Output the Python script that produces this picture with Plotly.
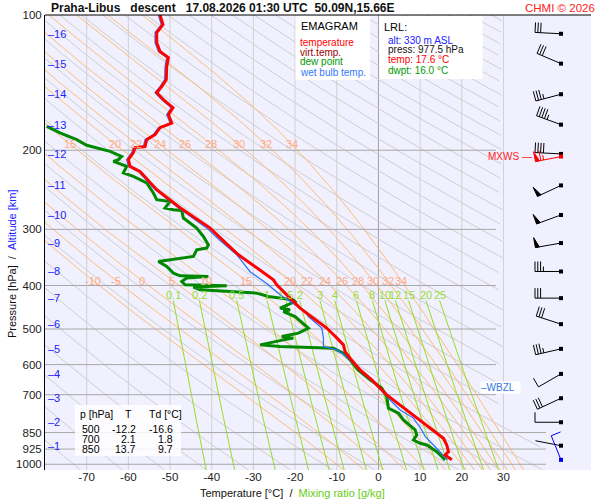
import numpy as np
import plotly.graph_objects as go

FONT = "Liberation Sans, Arial, sans-serif"

### ==== SOUNDING (pressure hPa, temperature °C) ==== ###
temp_p = [100.0, 105.0, 107.7, 109.4, 115.2, 120.6, 124.4, 130.3, 139.2, 144.3, 148.9, 154.3,
          160.8, 166.6, 174.0, 178.1, 184.6, 189.4, 196.3, 197.3, 202.5, 209.9, 217.3, 222.9,
          244.8, 268.5, 298.0, 341.7, 365.3, 388.5, 398.6, 419.6, 449.2, 473.1, 497.5, 523.2,
          542.3, 561.2, 580.8, 616.5, 649.0, 700.9, 737.8, 776.6, 796.8, 838.8, 875.3, 905.8,
          937.5, 953.5, 977.5]
temp_t = [-52.4, -51.7, -52.6, -53.2, -53.2, -52.4, -50.4, -50.8, -50.9, -52.0, -53.2, -51.6,
          -49.3, -50.4, -49.6, -52.4, -53.6, -55.6, -56.0, -58.4, -58.8, -60.0, -59.6, -57.2,
          -53.2, -47.6, -40.4, -33.6, -29.2, -25.2, -24.4, -22.0, -18.8, -15.6, -12.4, -10.0,
          -8.4, -8.0, -6.8, -4.4, -1.6, 2.0, 5.2, 8.4, 10.0, 13.2, 15.6, 16.4,
          16.8, 16.0, 17.6]

dwpt_p = [176.9, 183.0, 189.4, 195.0, 201.1, 206.4, 209.9, 211.7, 217.3, 224.7, 228.7, 236.5,
          249.0, 257.7, 260.0, 268.9, 271.3, 272.3, 283.1, 290.4, 298.0, 311.1, 324.6, 330.2,
          333.1, 344.7, 353.7, 362.9, 375.4, 380.6, 382.0, 385.1, 391.9, 398.6, 400.6, 403.3,
          409.0, 416.0, 423.3, 430.5, 434.2, 449.2, 453.1, 457.1, 469.0, 497.7, 510.7, 519.7,
          523.9, 528.6, 542.3, 547.0, 551.5, 565.9, 575.9, 585.7, 616.5, 649.0, 676.2, 707.1,
          750.4, 770.0, 796.8, 838.8, 860.6, 882.9, 898.0, 905.8, 937.5, 969.8, 977.5]
dwpt_t = [-79.6, -76.4, -72.4, -70.0, -64.4, -61.6, -62.4, -63.6, -60.4, -61.2, -58.8, -55.6,
          -54.0, -53.2, -50.0, -51.2, -49.2, -47.2, -46.8, -45.2, -43.6, -42.0, -40.8, -41.2,
          -43.6, -44.4, -52.8, -50.8, -49.2, -47.6, -40.8, -46.0, -47.2, -46.4, -36.4, -44.4,
          -42.8, -29.2, -26.4, -20.4, -20.0, -23.6, -21.2, -22.8, -20.0, -16.8, -19.2, -23.2,
          -20.4, -22.8, -28.4, -23.6, -10.8, -8.4, -7.6, -6.8, -4.9, -2.0, 0.8, 2.0,
          2.4, 4.8, 6.0, 8.8, 9.2, 8.4, 10.0, 11.6, 14.0, 15.6, 16.0]

wetb_p = [100.0, 105.0, 107.7, 109.4, 115.2, 120.6, 124.4, 130.3, 139.2, 144.3, 148.9, 154.3,
          160.8, 166.6, 174.0, 178.1, 184.6, 189.4, 196.3, 197.3, 202.5, 209.9, 217.3, 222.9,
          244.8, 268.5, 299.6, 316.4, 341.7, 372.7, 398.6, 419.6, 441.7, 457.1, 469.0, 485.3,
          497.7, 523.9, 547.0, 556.4, 575.9, 616.5, 649.0, 700.9, 712.9, 757.0, 789.3, 838.8,
          866.5, 905.8, 937.5, 969.8, 977.5]
wetb_t = [-52.8, -52.1, -53.0, -53.6, -53.6, -52.8, -50.8, -51.2, -51.3, -52.4, -53.6, -52.0,
          -49.7, -50.8, -50.0, -52.8, -54.0, -56.0, -56.4, -58.8, -59.2, -60.4, -60.0, -57.6,
          -53.6, -48.0, -40.9, -38.2, -34.0, -30.8, -26.4, -23.6, -20.0, -17.6, -16.8, -14.8,
          -13.6, -13.2, -13.2, -10.0, -7.6, -4.6, -1.8, 1.8, 2.4, 5.2, 8.4, 10.4,
          11.2, 13.2, 14.8, 16.4, 16.6]

# altitude marks [km] and winds (direction deg, speed kt) at those levels
alt_km = [16, 15, 14, 13, 12, 11, 10, 9, 8, 7, 6, 5, 4, 3, 2, 1]
alt_p = [110.1, 128.3, 150.1, 175.4, 203.8, 239.5, 278.7, 321.8, 372.3, 426.8, 487.6, 553.5,
         629.3, 712.9, 806.3, 909.2]
wind_dir = [273, 293, 255, 290, 273, 245, 250, 260, 270, 270, 288, 257, 240, 245, 270, 281]
wind_spd = [30, 30, 35, 45, 40, 50, 50, 50, 35, 30, 30, 35, 10, 30, 10, 3]
mxws = dict(p=206.6, d=259, s=65)
sfc_wind = dict(p=977.5, d=338, s=10)
wbzl_p = 675.7

# background of the diagram
dry_theta = list(range(190, 600, 10))                       # K
pseudo_thw = [-10, -5, 0, 5, 10, 15, 20, 22, 24, 26, 28, 30, 32, 34]   # °C
pseudo_lbl_hi = [15, 20, 22, 24, 26, 28, 30, 32, 34]
mix_ratio = [0.1, 0.2, 0.5, 1, 1.5, 2, 3, 4, 6, 8, 10, 12, 15, 20, 25]  # g/kg

p_ticks = [100, 200, 300, 400, 500, 600, 700, 850, 925, 1000]
t_ticks = [-70, -60, -50, -40, -30, -20, -10, 0, 10, 20, 30]

table_rows = [("500", "-12.2", "-16.6"), ("700", "2.1", "1.8"), ("850", "13.7", "9.7")]

### ==== GEOMETRY ==== ###
W, H = 600, 500
ML, MR, MT, MB = 45, 9, 15, 30
X0, X1 = -80, 51
P_TOP, P_BOT = 100, 1029.8
PXD = (W - ML - MR) / (X1 - X0)
PXL = (H - MT - MB) / np.log(P_BOT / P_TOP)
X_BARB = 43.8


def paper(x, y):
    return (x - ML) / (W - ML - MR), (H - MB - y) / (H - MT - MB)


def t_max(p):
    # right border of the diagram
    f = np.clip((np.log(p) - np.log(750)) / (np.log(850) - np.log(750)), 0, 1)
    return 30 + 10 * f


def joined(curves):
    xs, ys = [], []
    for x, y in curves:
        x = np.where(x > t_max(np.asarray(y)) + 0.01, np.nan, x)
        xs += list(x) + [None]
        ys += list(y) + [None]
    return xs, ys


def es(tc):
    return 6.112 * np.exp(17.67 * tc / (tc + 243.5))


def moist_rate(tk, p):
    e = es(tk - 273.15)
    rs = 0.622 * e / (p - e)
    return (287.04 * tk + 2.501e6 * rs) / (1005.7 + 2.501e6 ** 2 * rs * 0.622 / (287.04 * tk * tk))


def integrate(thw, lnp):
    t = [thw + 273.15]
    for i in range(1, len(lnp)):
        h, x, tk = lnp[i] - lnp[i - 1], lnp[i - 1], t[-1]
        k1 = moist_rate(tk, np.exp(x))
        k2 = moist_rate(tk + h * k1 / 2, np.exp(x + h / 2))
        k3 = moist_rate(tk + h * k2 / 2, np.exp(x + h / 2))
        k4 = moist_rate(tk + h * k3, np.exp(x + h))
        t.append(tk + h * (k1 + 2 * k2 + 2 * k3 + k4) / 6)
    return np.array(t) - 273.15


def pseudo_adiabat(thw):
    up = np.linspace(np.log(1000), np.log(P_TOP), 220)
    dn = np.linspace(np.log(1000), np.log(P_BOT), 6)
    lnp = np.concatenate([dn[::-1], up[1:]])
    t = np.concatenate([integrate(thw, dn)[::-1], integrate(thw, up)[1:]])
    return t, np.exp(lnp)


def mixing_line(w, p):
    e = w / 1000 * p / (0.622 + w / 1000)
    a = np.log(e / 6.112)
    return 243.5 * a / (17.67 - a)


fig = go.Figure()
pp = np.geomspace(P_TOP, P_BOT, 160)


def add_line(x, y, color, width=1):
    fig.add_trace(go.Scatter(x=x, y=y, mode="lines", line=dict(color=color, width=width),
                             hoverinfo="skip", showlegend=False, connectgaps=False))


# vertical grid
vx, vy = [], []
for t in t_ticks:
    if t != 0:
        vx += [t, t, None]
        vy += [P_TOP, P_BOT, None]
add_line(vx, vy, "#d2d2d2")
add_line([0, 0], [P_TOP, P_BOT], "#a0a0a0")

# dry adiabats
add_line(*joined([(th * (pp / 1000) ** 0.286 - 273.15, pp) for th in dry_theta]), "#cfcfcf")

# pseudo-adiabats
pseudo = {thw: pseudo_adiabat(thw) for thw in pseudo_thw}
add_line(*joined(list(pseudo.values())), "#ffbd78")

# mixing ratio lines
pm = np.geomspace(432, P_BOT, 60)
add_line(*joined([(mixing_line(w, pm), pm) for w in mix_ratio]), "#99dd22")

# horizontal grid
hx, hy = [], []
for p in p_ticks[1:]:
    hx += [X0, 40.2 if p >= 850 else 28.2, None]
    hy += [p, p, None]
add_line(hx, hy, "#a8a8a8")

# sounding
add_line(dwpt_t, dwpt_p, "#008800", 3)
add_line(wetb_t, wetb_p, "#2a6eff", 1.2)
add_line(temp_t, temp_p, "#ff0000", 3)


### ==== WIND BARBS ==== ###
def barb(p0, d, spd, color):
    ux, uy = np.sin(np.radians(d)), -np.cos(np.radians(d))
    nx, ny = -uy, ux
    shaft, blen, step, fw = 26, 10, 2.8, 4
    tx, ty = shaft * ux, shaft * uy
    segs = [[(0, 0), (tx, ty)]]
    flags = []
    n50, rem = divmod(spd, 50)
    n10, rem = divmod(rem, 10)
    pos = 0
    for _ in range(n50):
        a = (tx - pos * ux, ty - pos * uy)
        b = (tx - (pos + fw) * ux, ty - (pos + fw) * uy)
        flags.append([a, (a[0] + blen * nx, a[1] + blen * ny), b, a])
        pos += fw + 1.5
    for _ in range(n10):
        a = (tx - pos * ux, ty - pos * uy)
        segs.append([a, (a[0] + blen * nx, a[1] + blen * ny)])
        pos += step
    if rem >= 5:
        a = (tx - pos * ux, ty - pos * uy)
        segs.append([a, (a[0] + blen / 2 * nx, a[1] + blen / 2 * ny)])

    def to_data(pts):
        return ([X_BARB + dx / PXD for dx, dy in pts], [p0 * np.exp(dy / PXL) for dx, dy in pts])

    xs, ys = [], []
    for s in segs:
        x, y = to_data(s)
        xs += x + [None]
        ys += y + [None]
    add_line(xs, ys, color, 1)
    for f in flags:
        x, y = to_data(f)
        fig.add_trace(go.Scatter(x=x, y=y, mode="lines", fill="toself", fillcolor=color,
                                 line=dict(color=color, width=1), hoverinfo="skip", showlegend=False))
    fig.add_trace(go.Scatter(x=[X_BARB], y=[p0], mode="markers",
                             marker=dict(symbol="square", size=4, color=color),
                             hoverinfo="skip", showlegend=False))


for p, d, s in zip(alt_p, wind_dir, wind_spd):
    barb(p, d, s, "black")
barb(mxws["p"], mxws["d"], mxws["s"], "#ff0000")
barb(sfc_wind["p"], sfc_wind["d"], sfc_wind["s"], "#0000ee")

### ==== TEXTS ==== ###
ann = []


def text(x, y, s, size=10, color="black", anchor="left", bold=False, xref="paper", yref="paper", **kw):
    if xref == "paper":
        x = paper(x, 0)[0]
    if yref == "paper":
        y = paper(0, y)[1]
    ann.append(dict(x=x, y=y, xref=xref, yref=yref, text=f"<b>{s}</b>" if bold else s,
                    showarrow=False, xanchor=anchor, yanchor="middle",
                    font=dict(family=FONT, size=size, color=color), **kw))


text(49, 8, "Praha-Libus&nbsp;&nbsp; descent&nbsp;&nbsp; 17.08.2026 01:30 UTC&nbsp; 50.09N,15.66E",
     12, "#111", bold=True)
text(597, 8, "CHMI © 2026", 11.5, "#ff2020", "right")

# pseudo-adiabat and mixing ratio labels
for thw in pseudo_thw:
    t, p = pseudo[thw]
    text(float(np.interp(np.log(390), np.log(p[::-1]), t[::-1])), np.log10(390), str(thw), 11,
         "#ffaa88", "center", xref="x", yref="y")
for thw in pseudo_lbl_hi:
    t, p = pseudo[thw]
    text(float(np.interp(np.log(194), np.log(p[::-1]), t[::-1])), np.log10(194), str(thw), 11,
         "#ffaa88", "center", xref="x", yref="y")
for w in mix_ratio:
    text(float(mixing_line(w, 432)), np.log10(419), f"{w:g}", 11, "#99dd33", "center",
         xref="x", yref="y")

# altitude
for km, p in zip(alt_km, alt_p):
    text(46, np.log10(p), f"–{km}", 11, "#2222ff", yref="y")

# boxes
shapes = []


def box(x0, y0, x1, y1, opacity=1.0):
    a0, b0 = paper(x0, y0)
    a1, b1 = paper(x1, y1)
    shapes.append(dict(type="rect", xref="paper", yref="paper", x0=a0, y0=b0, x1=a1, y1=b1,
                       fillcolor="white", opacity=opacity, line=dict(width=0), layer="above"))


box(295.5, 16, 370, 80)
box(379.5, 16, 482.5, 79)
box(75, 405, 181, 456, 0.85)

text(299, 26, "EMAGRAM", 11)
for i, (s, c) in enumerate([("temperature", "#ff0000"), ("virt.temp.", "#990000"),
                            ("dew point", "#009900"), ("wet bulb temp.", "#3377ff")]):
    text(298, 42 + 10 * i, s, 10, c)

text(382, 27, "LRL:", 11)
for i, (s, c) in enumerate([("alt: 330 m ASL", "#2222ff"), ("press: 977.5 hPa", "#111111"),
                            ("temp: 17.6 °C", "#ff0000"), ("dwpt: 16.0 °C", "#009900")]):
    text(386, 40 + 10 * i, s, 10, c)

text(78, 414, "p [hPa]", 10.5)
text(128, 414, "T", 10.5, anchor="center")
text(146.5, 414, "Td [°C]", 10.5)
for i, (p, t, td) in enumerate(table_rows):
    y = 428.5 + 10.3 * i
    text(102, y, p, 10.5, anchor="right")
    text(138, y, t, 10.5, anchor="right")
    text(174.5, y, td, 10.5, anchor="right")

text(534, np.log10(mxws["p"]), "MXWS —", 10, "#ff2020", "right", yref="y")
text(480, np.log10(wbzl_p), "–WBZL&nbsp;&nbsp;", 10, "#3377dd", yref="y", bgcolor="white", borderpad=0)

text(292, 493, "Temperature [°C]&nbsp;&nbsp;/&nbsp;&nbsp;<span style='color:#66cc11'>Mixing ratio [g/kg]</span>",
     11, "#111", "center")
ann.append(dict(x=paper(12, 0)[0], y=paper(0, 264)[1], xref="paper", yref="paper", textangle=-90,
                text="Pressure [hPa]&nbsp;&nbsp;/&nbsp;&nbsp;<span style='color:#2222ff'>Altitude [km]</span>",
                showarrow=False, xanchor="center", yanchor="middle",
                font=dict(family=FONT, size=11, color="#111")))

# top border
shapes.append(dict(type="line", xref="paper", yref="paper", x0=0, x1=1, y0=1, y1=1,
                   line=dict(color="black", width=1), layer="above"))

fig.update_layout(
    width=W, height=H, autosize=False,
    margin=dict(l=ML, r=MR, t=MT, b=MB, pad=0),
    paper_bgcolor="white", plot_bgcolor="#f0f0fe",
    showlegend=False, hovermode=False,
    font=dict(family=FONT, size=11, color="#222"),
    xaxis=dict(range=[X0, X1], showgrid=False, zeroline=False, showline=False,
               tickvals=t_ticks, ticktext=[str(t) for t in t_ticks], ticks="",
               ticklabelstandoff=-2, tickfont=dict(size=11.5, color="#222")),
    yaxis=dict(type="log", range=[np.log10(P_BOT), np.log10(P_TOP)], showgrid=False,
               zeroline=False, showline=True, linecolor="black", linewidth=1,
               tickvals=p_ticks, ticktext=[str(p) for p in p_ticks], ticks="",
               tickfont=dict(size=11.5, color="#222")),
    annotations=ann, shapes=shapes,
)

fig.write_html("out.html", config={"displayModeBar": False, "staticPlot": True},
               post_script="document.body.style.margin='0';")
